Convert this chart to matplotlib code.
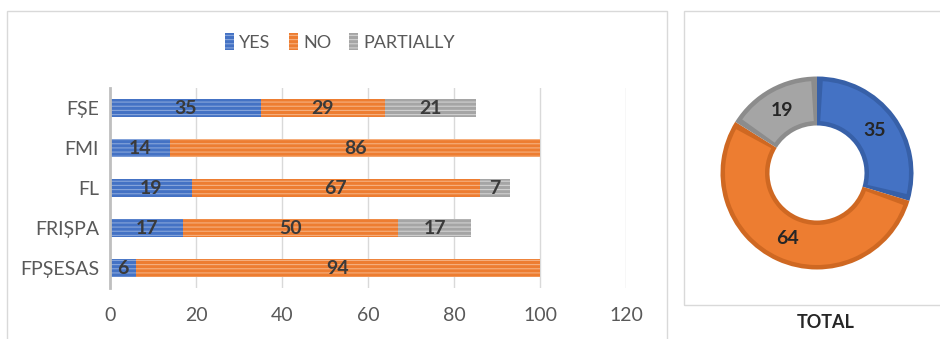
import numpy as np
import matplotlib
matplotlib.use("Agg")
from matplotlib import pyplot as plt
from matplotlib.patches import Rectangle, Wedge

plt.rcParams["font.family"] = ["Lato", "DejaVu Sans"]
plt.rcParams["hatch.linewidth"] = 0.8

faculties = ["FPȘESAS", "FRIȘPA", "FL", "FMI", "FȘE"]
yes_vals = [6, 17, 19, 14, 35]
no_vals = [94, 50, 67, 86, 29]
partial_vals = [0, 17, 7, 0, 21]

series_names = ["YES", "NO", "PARTIALLY"]
total_vals = [35, 64, 19]

colors = ["#4472C4", "#ED7D31", "#A5A5A5"]
stripe_colors = ["#86A5DB", "#F6B07F", "#D0D0D0"]
edge_dark = ["#3760A8", "#CF6822", "#8C8C8C"]

fig = plt.figure(figsize=(9.4, 3.39), dpi=100)

# panel frames
fig.patches.append(Rectangle((7 / 940, -0.05), 660 / 940, 1 - 11 / 339 + 0.05,
                             transform=fig.transFigure, fill=False,
                             edgecolor="#D9D9D9", linewidth=1))
fig.patches.append(Rectangle((684 / 940, 1 - 305 / 339), 0.4, 294 / 339,
                             transform=fig.transFigure, fill=False,
                             edgecolor="#D9D9D9", linewidth=1))

# stacked bars
ax = fig.add_axes([110 / 940, 51 / 339, 516 / 940, 200 / 339])
y = np.arange(len(faculties))
left = np.zeros(len(faculties))
for vals, name, c, sc in zip([yes_vals, no_vals, partial_vals], series_names, colors, stripe_colors):
    vals = np.array(vals, dtype=float)
    bars = ax.barh(y, vals, left=left, height=0.43, color=c, edgecolor=sc,
                   linewidth=0, hatch="----", label=name, zorder=3)
    for b, v in zip(bars, vals):
        if v > 0:
            ax.text(b.get_x() + b.get_width() / 2, b.get_y() + b.get_height() / 2,
                    f"{int(v)}", ha="center", va="center", fontsize=14,
                    color="#3A3A3A", fontweight="bold", zorder=4)
    left += vals

ax.set_xlim(0, 120)
ax.set_ylim(-0.5, 4.5)
ax.set_xticks(range(0, 121, 20))
ax.set_yticks(y)
ax.set_yticklabels(faculties)
ax.tick_params(length=0, labelsize=14, labelcolor="#595959", pad=8)
ax.tick_params(axis="x", pad=14)
ax.grid(axis="x", color="#D9D9D9", linewidth=1, zorder=0)
for s in ["top", "right", "bottom"]:
    ax.spines[s].set_visible(False)
ax.spines["left"].set_color("#BFBFBF")
ax.spines["left"].set_linewidth(2)
ax.spines["left"].set_zorder(5)

handles, labels = ax.get_legend_handles_labels()
fig.legend(handles, labels, loc="center", bbox_to_anchor=(340 / 940, 1 - 42 / 339),
           ncol=3, frameon=False, fontsize=13, labelcolor="#595959",
           handlelength=0.5, handleheight=1.0, handletextpad=0.3, columnspacing=1.0)

# donut of the totals, with a darker inset rim on every segment
ax2 = fig.add_axes([717 / 940, 1 - 273 / 339, 200 / 940, 200 / 339])
r_out, ring = 0.965, 0.49
wedges, _ = ax2.pie(total_vals, colors=edge_dark, startangle=90, counterclock=False,
                    radius=r_out, wedgeprops=dict(width=ring, linewidth=0))
inset = 0.045
for w, c in zip(wedges, colors):
    d = np.rad2deg(inset / 0.72)
    ax2.add_patch(Wedge((0, 0), r_out - inset, w.theta1 + d, w.theta2 - d,
                        width=ring - 2 * inset, facecolor=c, linewidth=0))
for w, v in zip(wedges, total_vals):
    ang = np.deg2rad((w.theta1 + w.theta2) / 2)
    r = 0.72
    ax2.text(r * np.cos(ang), r * np.sin(ang), str(v), ha="center", va="center",
             fontsize=14, fontweight="bold", color="#262626")
ax2.set_xlim(-1, 1)
ax2.set_ylim(-1, 1)
ax2.set_aspect("equal")
ax2.axis("off")

fig.text(826 / 940, 1 - 322 / 339, "TOTAL", ha="center", va="center",
         fontsize=13, fontweight="bold", color="#262626")

fig.savefig("out.png", dpi=100)
